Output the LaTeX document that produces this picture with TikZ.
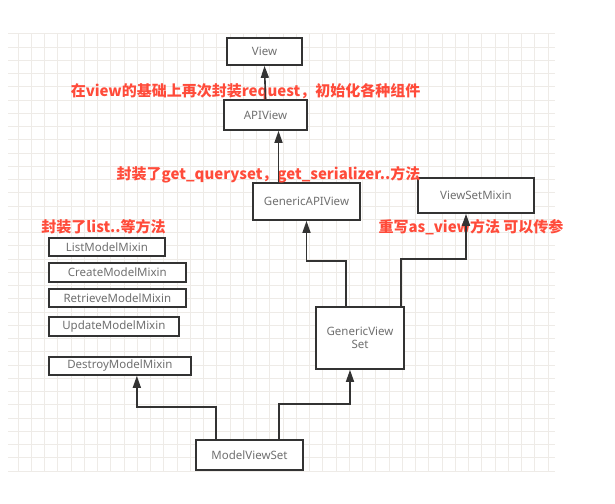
\documentclass[tikz,border=0pt]{standalone}
\usepackage{fontspec}
\newfontfamily\cjk{Noto Sans CJK SC}
\newfontfamily\boxfont{Noto Sans}
\definecolor{vwInk}{HTML}{333333}
\definecolor{vwText}{HTML}{707070}
\definecolor{vwNote}{HTML}{FF4B3A}
\definecolor{vwGrid}{HTML}{EEEBE7}
\usetikzlibrary{arrows.meta}

\begin{document}
\begin{tikzpicture}[x=1pt,y=-1pt,
                    cls/.style={draw=vwInk,line width=1.7pt,fill=white,text=vwText,align=center,
                                font=\boxfont\fontsize{11.5}{13.5}\selectfont,inner sep=0pt},
                    note/.style={text=vwNote,font=\cjk\bfseries\fontsize{15}{17}\selectfont,inner sep=0pt},
                    link/.style={draw=vwInk,line width=1.6pt,-{Triangle[length=12pt,width=8pt]}},
                    gridline/.style={draw=vwGrid,line width=0.9pt}]
  \useasboundingbox (0,0) rectangle (615,503);
  \foreach \i in {1,...,41}
    \draw[gridline] (4.75+13.25*\i,34) -- (4.75+13.25*\i,472);
  \foreach \j in {2,...,35}
    \draw[gridline] (8,7.25+13.25*\j) -- (555,7.25+13.25*\j);

  \node[cls,minimum width=75pt,minimum height=27pt] (view) at (264.5,51.5) {View};
  \node[cls,minimum width=83pt,minimum height=30pt] (api) at (265.5,115) {APIView};
  \node[cls,minimum width=107pt,minimum height=37pt] (gav) at (306.5,201.5) {GenericAPIView};
  \node[cls,minimum width=116pt,minimum height=35pt] (vsm) at (476,195.5) {ViewSetMixin};
  \node[cls,minimum width=116pt,minimum height=18pt,anchor=west] (list) at (48,247) {ListModelMixin};
  \node[cls,minimum width=137pt,minimum height=19pt,anchor=west] (create) at (48,272.5) {CreateModelMixin};
  \node[cls,minimum width=137pt,minimum height=18pt,anchor=west] (retrieve) at (48,298) {RetrieveModelMixin};
  \node[cls,minimum width=130pt,minimum height=19pt,anchor=west] (update) at (48,326.5) {UpdateModelMixin};
  \node[cls,minimum width=142pt,minimum height=18pt,anchor=west] (destroy) at (48,366) {DestroyModelMixin};
  \node[cls,minimum width=88pt,minimum height=62pt] (gvs) at (360,338) {GenericView\\Set};
  \node[cls,minimum width=107pt,minimum height=30pt] (mvs) at (249.5,455) {ModelViewSet};

  \node[note] (noteapi) at (245.5,92) {在view的基础上再次封装request，初始化各种组件};
  \node[note] (notegav) at (268.5,175) {封装了get\_queryset，get\_serializer..方法};
  \node[note] (notevsm) at (471,227) {重写as\_view方法 可以传参};
  \node[note] (notemix) at (103.5,227) {封装了list..等方法};

  \draw[link] (api.north) -- (view.south);
  \draw[link] ([xshift=-28pt]gav.north) -- ([xshift=-28pt]gav.north |- api.south);
  \draw[link] ([xshift=-14pt]gvs.north) -- ++(0,-45) -| (gav.south);
  \draw[link] ([xshift=41pt]gvs.north) -- ++(0,-47) -| ([xshift=-10pt]vsm.south);
  \draw[link] ([xshift=-33.5pt]mvs.north) -- ++(0,-32) -| ([xshift=17pt]destroy.south);
  \draw[link] ([xshift=29.5pt]mvs.north) -- ++(0,-35) -| ([xshift=-10pt]gvs.south);
\end{tikzpicture}
\end{document}
